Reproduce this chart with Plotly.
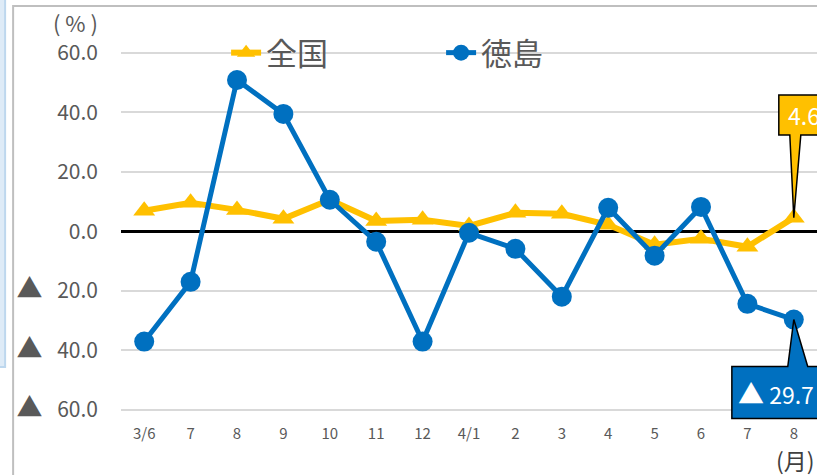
import plotly.graph_objects as go

months = ["3/6", "7", "8", "9", "10", "11", "12", "4/1", "2", "3", "4", "5", "6", "7", "8"]
zenkoku = [6.9, 9.6, 7.2, 4.2, 10.6, 3.5, 3.9, 1.8, 6.2, 5.9, 2.2, -4.5, -2.5, -5.2, 4.6]
tokushima = [-37.1, -17.0, 50.9, 39.5, 10.6, -3.5, -37.1, -0.5, -5.9, -22.0, 7.9, -8.2, 8.2, -24.4, -29.7]
ytick_vals = [60, 40, 20, 0, -20, -40, -60]
ytick_text = ["60.0", "40.0", "20.0", "0.0", "▲ 20.0", "▲ 40.0", "▲ 60.0"]

YELLOW = "#FFC000"
BLUE = "#0070C0"
GREY = "#595959"
FONT = "Noto Sans CJK JP"
TRI = '<span style="font-size:26px">▲</span>'

idx = list(range(len(months)))


def fmt(v):
    return f"{TRI} {abs(v):.1f}" if v < 0 else f"{v:.1f}"


fig = go.Figure()
fig.add_trace(go.Scatter(
    x=idx, y=zenkoku, name="全国", mode="lines+markers",
    line=dict(color=YELLOW, width=6),
    marker=dict(symbol="triangle-up", size=19, color=YELLOW),
))
fig.add_trace(go.Scatter(
    x=idx, y=tokushima, name="徳島", mode="lines+markers",
    line=dict(color=BLUE, width=5),
    marker=dict(symbol="circle", size=20, color=BLUE),
))

# callouts for the last month
last = idx[-1]


def callout(tip_y, color, box_x0, box_y_near, box_y_far, pl, pr, pad):
    ybase = tip_y + box_y_near
    yfar = tip_y + box_y_far
    x0 = last + box_x0
    x1 = last + 1.2
    path = (f"M {x0},{yfar} L {x1},{yfar} L {x1},{ybase} L {last + pr},{ybase} "
            f"L {last},{tip_y} L {last + pl},{ybase} L {x0},{ybase} Z")
    fig.add_shape(type="path", path=path, xref="x", yref="y",
                  fillcolor=color, line=dict(color="black", width=1.5), layer="above")
    fig.add_annotation(x=x0 + pad, y=(ybase + yfar) / 2, xref="x", yref="y",
                       text=fmt(tip_y), showarrow=False, xanchor="left", yanchor="middle",
                       font=dict(family=FONT, size=23, color="white"))


callout(zenkoku[-1], YELLOW, -0.323, 27.8, 41.3, -0.086, 0.151, 0.16)
callout(tokushima[-1], BLUE, -1.335, -15.8, -33.3, -0.13, 0.30, 0.08)

# chart frame and left panel
fig.add_shape(type="rect", xref="paper", yref="paper",
              x0=-0.155, x1=1.1, y0=-0.5, y1=1.118,
              line=dict(color="#BFBFBF", width=2), fillcolor="rgba(0,0,0,0)", layer="below")
fig.add_shape(type="rect", xref="paper", yref="paper",
              x0=-0.2, x1=-0.1665, y0=0.15, y1=1.2,
              line=dict(color="#BDD7EE", width=2), fillcolor="#DEEBF7", layer="below")

fig.add_annotation(text="( % )", xref="paper", yref="paper", x=-0.066, y=1.075,
                   showarrow=False, xanchor="center", yanchor="middle",
                   font=dict(family=FONT, size=22, color=GREY))
fig.add_annotation(text="(月)", xref="paper", yref="paper", x=0.938, y=-0.1,
                   showarrow=False, xanchor="left", yanchor="middle",
                   font=dict(family=FONT, size=23, color="#404040"))

fig.update_xaxes(
    range=[-0.5, 14.5], tickmode="array", tickvals=idx, ticktext=months,
    showgrid=False, zeroline=False, showline=False, ticks="",
    tickfont=dict(family=FONT, size=15, color=GREY), ticklabelstandoff=0,
)
fig.update_yaxes(
    range=[-64.5, 61], tickmode="array", tickvals=ytick_vals,
    ticktext=[t.replace("▲ ", TRI + "\u2002\u2009") for t in ytick_text],
    showgrid=True, gridcolor="#D9D9D9", gridwidth=1.5,
    zeroline=True, zerolinecolor="black", zerolinewidth=3,
    showline=False, ticks="",
    tickfont=dict(family=FONT, size=21, color=GREY), ticklabelstandoff=22,
)
fig.update_layout(
    width=817, height=475,
    paper_bgcolor="white", plot_bgcolor="white",
    margin=dict(l=121, r=0, t=50, b=52),
    showlegend=True,
    legend=dict(orientation="h", x=0.151, y=0.992, xanchor="left", yanchor="middle",
                bgcolor="rgba(0,0,0,0)", font=dict(family=FONT, size=31, color=GREY),
                entrywidth=170, itemsizing="trace"),
)

fig.write_html("out.html", config={"displayModeBar": False},
               post_script="document.body.style.margin='0';document.body.style.overflow='hidden';")
